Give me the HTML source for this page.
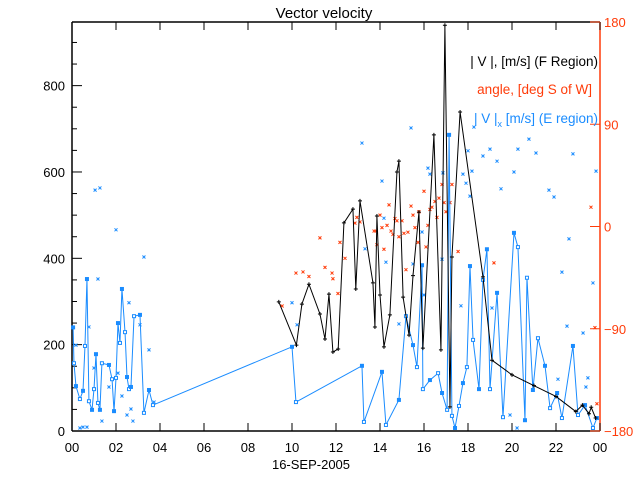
<!DOCTYPE html>
<html><head><meta charset="utf-8"><style>
body{margin:0;background:#fff;}
svg{display:block;font-family:"Liberation Sans",sans-serif;}
</style></head><body>
<svg id="chart" width="640" height="480" viewBox="0 0 640 480">
<text x="324" y="18" font-size="15" text-anchor="middle">Vector velocity</text>
<g id="axes"></g>
<g id="marks"></g>
<g font-size="13.5">
<text x="598" y="66" text-anchor="end" fill="#000">| V |, [m/s] (F Region)</text>
<text x="592" y="94" text-anchor="end" fill="#ff3c0a">angle, [deg S of W]</text>
<text x="598" y="123" text-anchor="end" fill="#1a8cff">| V |<tspan font-size="9" dy="4">x</tspan><tspan dy="-4"> [m/s] (E region)</tspan></text>
</g>
</svg>
<script>
const xTicks=[0,2,4,6,8,10,12,14,16,18,20,22,24];
const xTickLabels=["00","02","04","06","08","10","12","14","16","18","20","22","00"];
const yTicks=[0,200,400,600,800];
const angTicks=[-180,-90,0,90,180];
const fTime=[9.4,10.2,10.45,10.77,11.27,11.5,11.68,11.86,12.1,12.36,12.77,12.9,13.09,13.68,13.77,13.86,14.0,14.18,14.45,14.77,14.86,15.05,15.32,15.5,15.77,15.95,16.45,16.77,16.95,17.18,17.27,17.64,18.68,19.09,20,21,22,22.9,23.2,23.5,23.6,23.8];
const fVel=[299,199,294,340,271,213,317,183,190,482,514,329,533,343,241,498,315,195,269,600,625,310,222,360,507,192,686,188,940,56,403,739,357,164,130,105,80,45,60,40,55,30];
const eTime=[0.05,0.09,0.18,0.36,0.5,0.59,0.68,0.77,0.91,1.0,1.09,1.18,1.27,1.36,1.68,1.82,1.91,2.0,2.09,2.18,2.27,2.41,2.5,2.59,2.68,2.82,3.09,3.27,3.5,3.68,10.0,10.18,13.18,13.27,14.09,14.27,14.86,15.18,15.5,15.68,15.91,15.95,16.27,16.64,16.82,17.05,17.14,17.27,17.41,17.59,17.77,17.95,18.09,18.23,18.5,18.68,18.86,19.0,19.32,19.59,20.09,20.27,20.59,20.68,20.95,21.18,21.5,21.73,22.05,22.27,22.77,23.0,23.32,23.68,23.86];
const eVel=[240,157,104,74,93,197,352,69,49,97,178,65,49,157,153,120,46,123,250,204,329,229,125,97,102,266,269,42,95,60,195,67,151,21,137,14,72,266,199,148,384,97,118,134,88,49,686,35,7,58,111,148,382,211,97,350,421,97,320,32,459,426,25,355,95,215,151,53,88,30,197,37,60,7,30];
const sTime=[0.18,0.36,0.5,0.68,0.77,1.0,1.05,1.27,1.18,1.36,1.68,2.0,2.09,2.27,2.5,2.59,2.68,2.77,3.09,3.27,3.5,3.73,10.0,10.23,13.18,14.09,14.18,13.32,14.27,14.86,15.41,15.5,15.91,16.0,16.18,16.27,16.82,16.86,17.68,17.77,17.91,18.0,18.09,18.18,18.27,18.68,19.0,19.09,19.32,19.5,19.91,20.09,20.23,20.27,20.77,21.09,21.68,21.91,22.09,22.27,22.5,22.59,22.77,23.23,23.36,23.45,23.68,23.82];
const sVel=[199,7,9,9,241,146,558,563,352,23,102,466,134,81,37,297,51,23,246,403,188,67,297,246,667,579,493,422,391,248,702,387,461,315,609,595,398,598,290,595,574,649,544,602,704,637,653,285,625,561,37,600,7,653,676,644,558,542,120,368,243,445,642,227,102,123,343,602];
const aTime=[9.55,10.18,10.5,10.77,11.27,11.5,11.82,11.86,12.09,12.18,12.41,12.86,12.95,13.09,13.73,13.82,13.86,14.0,14.09,14.18,14.32,14.41,14.5,14.59,14.68,14.77,14.86,15.0,15.09,15.18,15.27,15.41,15.5,15.59,15.73,15.77,16.0,16.09,16.18,16.27,16.36,16.5,16.59,16.68,16.82,16.91,17.0,17.18,17.27,17.55,19.18,23.59,23.77,23.86];
const aAng=[-70,-41,-40,-44,-10,-36,-41,-46,-59,-14,-28,3,8,4,-4,-4,-16,10,-1,-20,1,19,-4,-7,7,5,-9,5,-6,-38,-5,18,10,-1,-14,13,31,-18,1,15,17,22,8,25,37,21,13,21,37,-22,-32,17,-89,-156];

const X0=72,X1=600,Y0=431,Y1=22,VMAX=947.4;
const xs=t=>X0+(X1-X0)*t/24;
const ys=v=>Y0-(Y0-Y1)*v/VMAX;
const ya=a=>Y0-(Y0-Y1)*(a+180)/360;
const NS="http://www.w3.org/2000/svg";
const axes=document.getElementById('axes'),marks=document.getElementById('marks');
function mk(tag,attrs,parent){const e=document.createElementNS(NS,tag);for(const k in attrs)e.setAttribute(k,attrs[k]);parent.appendChild(e);return e;}

let e;
e=mk('line',{x1:X0,y1:Y0,x2:X1,y2:Y0,stroke:'#000','stroke-width':1.5},axes);


e=mk('line',{x1:X0,y1:Y1,x2:X1,y2:Y1,stroke:'#000','stroke-width':1.5},axes);


e=mk('line',{x1:X0,y1:Y0,x2:X0,y2:Y1,stroke:'#000','stroke-width':1.5},axes);


e=mk('line',{x1:X1,y1:Y0,x2:X1,y2:Y1,stroke:'#ff3c0a','stroke-width':1.5},axes);



xTicks.forEach((t,i)=>{
  mk('line',{x1:xs(t),y1:Y0,x2:xs(t),y2:Y0-8,stroke:'#000'},axes);
  mk('line',{x1:xs(t),y1:Y1,x2:xs(t),y2:Y1+8,stroke:'#000'},axes);
  const tx=mk('text',{x:xs(t),y:452,'font-size':13,'text-anchor':'middle'},axes);
  tx.textContent=xTickLabels[i];
  
  
});
for(let v=0;v<=900;v+=50){mk('line',{x1:X0,y1:ys(v),x2:X0+(v%200===0?10:5),y2:ys(v),stroke:'#000'},axes);}
yTicks.forEach(v=>{
  const tx=mk('text',{x:65,y:ys(v)+5,'font-size':13,'text-anchor':'end'},axes);
  tx.textContent=v;
  
  
});
angTicks.forEach(a=>{
  mk('line',{x1:X1,y1:ya(a),x2:X1-10,y2:ya(a),stroke:'#ff3c0a'},axes);
  const tx=mk('text',{x:604,y:ya(a)+5,'font-size':13,fill:'#ff3c0a'},axes);
  tx.textContent=(a<0?'\u2212':'')+Math.abs(a);
  
  
});
const xl=mk('text',{x:311,y:469,'font-size':13,'text-anchor':'middle'},axes);
xl.textContent='16-SEP-2005';



function xMark(x,y,c,p){mk('path',{d:`M${x-1.5},${y-1.5}L${x+1.5},${y+1.5}M${x-1.5},${y+1.5}L${x+1.5},${y-1.5}`,stroke:c,'stroke-width':1},p);}

// angle scatter
const ag=mk('g',{},marks);


aTime.forEach((t,i)=>xMark(xs(t),ya(aAng[i]),'#ff3c0a',ag));
// E scatter
const sg=mk('g',{},marks);


sTime.forEach((t,i)=>xMark(xs(t),ys(sVel[i]),'#1a8cff',sg));
// E line: break gap between 3.7 and 10 drawn as line (as in reference)
const eg=mk('g',{},marks);


mk('polyline',{points:eTime.map((t,i)=>xs(t)+','+ys(eVel[i])).join(' '),fill:'none',stroke:'#1a8cff','stroke-width':1},eg);
eTime.forEach((t,i)=>{mk('rect',{x:xs(t)-1.5,y:ys(eVel[i])-1.5,width:3,height:3,fill:i%2?'#fff':'#1a8cff',stroke:'#1a8cff','stroke-width':1},eg);});
// F line
const fg=mk('g',{},marks);


mk('polyline',{points:fTime.map((t,i)=>xs(t)+','+ys(fVel[i])).join(' '),fill:'none',stroke:'#000','stroke-width':1},fg);
fTime.forEach((t,i)=>{const x=xs(t),y=ys(fVel[i]);mk('path',{d:`M${x-2},${y}H${x+2}M${x},${y-2}V${y+2}`,stroke:'#000'},fg);});
</script>
</body></html>
